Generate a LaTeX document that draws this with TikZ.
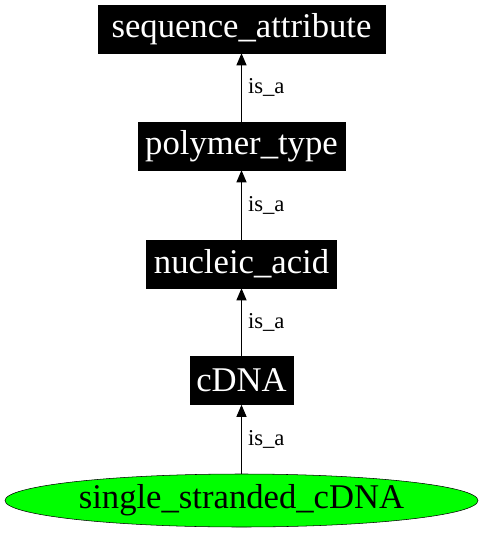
\documentclass[tikz,border=0pt]{standalone}
\usepackage{fontspec}
\setmainfont{Liberation Serif}
\usetikzlibrary{arrows.meta,shapes.geometric}
\begin{document}
\begin{tikzpicture}[x=0.75pt,y=-0.75pt,
  termbox/.style={draw=black,fill=black,text=white,inner sep=0pt,font=\fontsize{26}{30}\selectfont},
  leaf/.style={ellipse,draw=black,fill=green,inner sep=0pt,font=\fontsize{26}{30}\selectfont},
  isa/.style={-{Triangle[length=9pt,width=7.5pt]},black,line width=0.8pt},
  lbl/.style={font=\fontsize{17}{20}\selectfont,anchor=west,inner sep=0pt}]
\useasboundingbox (0,0) rectangle (483,536);
\node[termbox,minimum width=287*0.75pt,minimum height=48*0.75pt] (sa) at (241.5,29) {sequence\_attribute};
\node[termbox,minimum width=207*0.75pt,minimum height=48*0.75pt] (pt) at (241.5,146) {polymer\_type};
\node[termbox,minimum width=190*0.75pt,minimum height=48*0.75pt] (na) at (241.5,264) {nucleic\_acid};
\node[termbox,minimum width=103*0.75pt,minimum height=48*0.75pt] (cd) at (241.5,380.5) {cDNA};
\node[leaf,minimum width=473*0.75pt,minimum height=53*0.75pt] (ss) at (241.5,500.5) {single\_stranded\_cDNA};
\draw[isa] (pt) -- (sa) node[lbl,midway,xshift=4.5pt] {is\_a};
\draw[isa] (na) -- (pt) node[lbl,midway,xshift=4.5pt] {is\_a};
\draw[isa] (cd) -- (na) node[lbl,midway,xshift=4.5pt] {is\_a};
\draw[isa] (ss) -- (cd) node[lbl,midway,xshift=4.5pt] {is\_a};
\end{tikzpicture}
\end{document}
